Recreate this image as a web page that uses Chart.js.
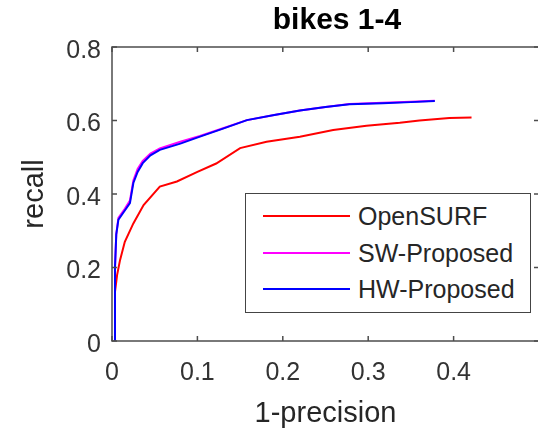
<!DOCTYPE html>
<html>
<head>
<meta charset="utf-8">
<script src="https://cdn.jsdelivr.net/npm/chart.js@4.4.1/dist/chart.umd.min.js"></script>
<style>
    html, body { margin: 0; padding: 0; overflow: hidden; background: #fff; }
    #wrap { position: relative; width: 674px; height: 435px; }
    #legend {
        position: absolute; left: 245px; top: 193px; width: 286px; height: 120px;
        box-sizing: border-box; border: 1.5px solid #444; background: #fff;
        font-family: "Liberation Sans", Arial, sans-serif; font-size: 25px; color: #262626;
    }
    .item { position: absolute; left: 0; height: 30px; line-height: 30px; white-space: nowrap; }
    .item span.swatch { position: absolute; left: 17px; top: 14px; width: 87px; height: 2px; }
    .item span.text { position: absolute; left: 112px; top: 0; }
</style>
</head>
<body>
<div id="wrap">
    <canvas id="prChart" width="674" height="435"></canvas>
    <div id="legend"></div>
</div>
<script>
// --- data ---
const seriesLabels = ['OpenSURF', 'SW-Proposed', 'HW-Proposed'];
const seriesColors = ['#ff0000', '#ff00ff', '#0000ff'];

const openSurfX = [0.0035, 0.006, 0.0094, 0.015, 0.025, 0.037, 0.056, 0.076, 0.1, 0.122, 0.15, 0.181, 0.22, 0.259, 0.298, 0.337, 0.36, 0.395, 0.421];
const openSurfY = [0.134, 0.18, 0.22, 0.27, 0.32, 0.37, 0.42, 0.434, 0.46, 0.483, 0.525, 0.542, 0.556, 0.574, 0.586, 0.594, 0.6, 0.607, 0.608];

const swX = [0.003, 0.0035, 0.005, 0.0075, 0.015, 0.021, 0.025, 0.03, 0.036, 0.045, 0.056, 0.08, 0.103, 0.13, 0.158, 0.19, 0.22, 0.25, 0.278, 0.317, 0.35, 0.378];
const swY = [0, 0.2, 0.29, 0.335, 0.36, 0.382, 0.437, 0.468, 0.49, 0.51, 0.524, 0.542, 0.558, 0.579, 0.601, 0.615, 0.627, 0.637, 0.645, 0.648, 0.651, 0.654];

const hwX = [0.003, 0.0035, 0.005, 0.0075, 0.015, 0.021, 0.025, 0.03, 0.036, 0.045, 0.056, 0.08, 0.103, 0.13, 0.158, 0.19, 0.22, 0.25, 0.278, 0.317, 0.35, 0.378];
const hwY = [0, 0.2, 0.29, 0.33, 0.355, 0.375, 0.43, 0.46, 0.484, 0.505, 0.52, 0.537, 0.556, 0.578, 0.601, 0.615, 0.627, 0.637, 0.644, 0.647, 0.65, 0.653];

const xTickMax = 0.4;   // last labelled x tick (0.5 sits off the visible edge)

const fontFamily = '"Liberation Sans", Arial, sans-serif';

function toPoints(xs, ys) {
    return xs.map((x, i) => ({ x: x, y: ys[i] }));
}

// MATLAB-like box with inward tick marks
const boxTicks = {
    id: 'boxTicks',
    afterDatasetsDraw(chart) {
        const { ctx, chartArea: a, scales } = chart;
        ctx.save();
        ctx.strokeStyle = '#4d4d4d';
        ctx.lineWidth = 1.5;
        ctx.strokeRect(a.left, a.top, a.right - a.left, a.bottom - a.top);
        ctx.beginPath();
        scales.x.ticks.forEach(t => {
            const px = scales.x.getPixelForValue(t.value);
            ctx.moveTo(px, a.bottom); ctx.lineTo(px, a.bottom - 5);
            ctx.moveTo(px, a.top); ctx.lineTo(px, a.top + 5);
        });
        scales.y.ticks.forEach(t => {
            const py = scales.y.getPixelForValue(t.value);
            ctx.moveTo(a.left, py); ctx.lineTo(a.left + 5, py);
            ctx.moveTo(a.right, py); ctx.lineTo(a.right - 5, py);
        });
        ctx.stroke();
        ctx.restore();
    }
};

const ctx = document.getElementById('prChart');
const allX = [openSurfX, swX, hwX];
const allY = [openSurfY, swY, hwY];

new Chart(ctx, {
    type: 'line',
    data: {
        datasets: seriesLabels.map((label, i) => ({
            label: label,
            data: toPoints(allX[i], allY[i]),
            borderColor: seriesColors[i],
            backgroundColor: seriesColors[i],
            order: 2 - i   // blue on top
        }))
    },
    options: {
        responsive: false,
        animation: false,
        events: [],
        layout: { padding: 0 },
        elements: {
            point: { radius: 0 },
            line: { borderWidth: 2, tension: 0, fill: false }
        },
        plugins: {
            legend: { display: false },
            tooltip: { enabled: false },
            title: {
                display: true,
                text: 'bikes 1-4',
                color: '#000',
                font: { family: fontFamily, size: 30, weight: 'bold' },
                padding: { top: 3, bottom: 8 }
            }
        },
        scales: {
            x: {
                type: 'linear',
                min: 0,
                max: 0.5,
                grid: { display: false, drawTicks: false },
                border: { display: false },
                ticks: {
                    stepSize: 0.1,
                    padding: 17,
                    color: '#333',
                    maxRotation: 0,
                    font: { family: fontFamily, size: 25 },
                    callback: v => (v > xTickMax + 1e-9 ? '' : String(+v.toFixed(1)))
                },
                title: {
                    display: true,
                    text: '1-precision',
                    color: '#262626',
                    font: { family: fontFamily, size: 29 },
                    padding: { top: 0, bottom: 3.6 }
                },
                afterFit(scale) { scale.height = 94; }
            },
            y: {
                type: 'linear',
                min: 0,
                max: 0.8,
                grid: { display: false, drawTicks: false },
                border: { display: false },
                ticks: {
                    stepSize: 0.2,
                    padding: 11,
                    labelOffset: 4,
                    color: '#333',
                    font: { family: fontFamily, size: 25 },
                    callback: v => String(+v.toFixed(1))
                },
                title: {
                    display: true,
                    text: 'recall',
                    color: '#262626',
                    font: { family: fontFamily, size: 29 },
                    padding: { top: 17.6, bottom: 0 }
                },
                afterFit(scale) { scale.width = 112; }
            },
            // empty right-hand strip so the plot runs off the window edge like the reference
            yRight: {
                position: 'right',
                display: true,
                grid: { display: false, drawTicks: false },
                border: { display: false },
                ticks: { display: false },
                afterFit(scale) { scale.width = 135; }
            }
        }
    },
    plugins: [boxTicks]
});

// --- legend box ---
const legend = document.getElementById('legend');
const rowTops = [7, 44, 80];
seriesLabels.forEach((label, i) => {
    const row = document.createElement('div');
    row.className = 'item';
    row.style.top = rowTops[i] + 'px';
    const sw = document.createElement('span');
    sw.className = 'swatch';
    sw.style.background = seriesColors[i];
    const tx = document.createElement('span');
    tx.className = 'text';
    tx.textContent = label;
    row.appendChild(sw);
    row.appendChild(tx);
    legend.appendChild(row);
});
</script>
</body>
</html>
